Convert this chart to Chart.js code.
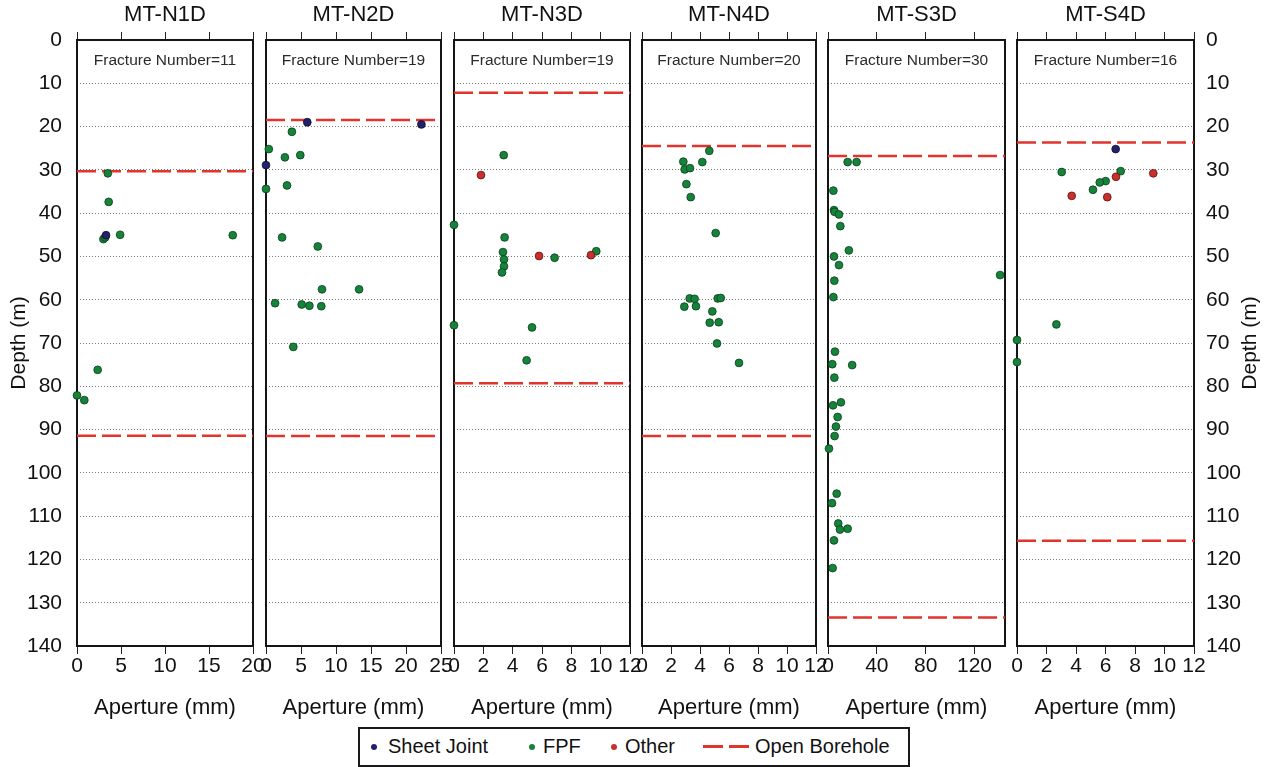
<!DOCTYPE html>
<html>
<head>
<meta charset="utf-8">
<title>Fracture aperture versus depth</title>
<script src="https://cdn.jsdelivr.net/npm/chart.js@4.4.1/dist/chart.umd.min.js"></script>
<style>
  html, body { margin: 0; padding: 0; background: #ffffff; }
  #stage { position: relative; width: 1271px; height: 767px; overflow: hidden; font-family: "Liberation Sans", Arial, sans-serif; }
  #stage canvas { position: absolute; left: 0; top: 0; }
  #legend { position: absolute; left: 358px; top: 727px; width: 552px; height: 40px; box-sizing: border-box;
            border: 2px solid #1a1a1a; background: #fff; font-size: 20px; color: #111; }
  #legend .dot { position: absolute; top: 15px; width: 6px; height: 6px; border-radius: 50%; }
  #legend .txt { position: absolute; top: 5px; line-height: 24px; white-space: nowrap; }
  #legend .dash { position: absolute; top: 16px; width: 20px; height: 3px; background: #e0342c; }
</style>
</head>
<body>
<div id="stage">
  <div id="legend">
    <span class="dot" style="left:11px;background:#22226a"></span><span class="txt" style="left:28px">Sheet Joint</span>
    <span class="dot" style="left:169px;background:#15843a"></span><span class="txt" style="left:183px">FPF</span>
    <span class="dot" style="left:251px;background:#c9302c"></span><span class="txt" style="left:265px">Other</span>
    <span class="dash" style="left:343px"></span><span class="dash" style="left:369px"></span><span class="txt" style="left:395px">Open Borehole</span>
  </div>
</div>
<script>
// ---- data: [aperture (mm), depth (m)] ----
const wellNames = ['MT-N1D', 'MT-N2D', 'MT-N3D', 'MT-N4D', 'MT-S3D', 'MT-S4D'];
const fractureCounts = [11, 19, 19, 20, 30, 16];
const apertureMax = [20, 25, 12, 12, 145, 12];

const ticksN1D = [0, 5, 10, 15, 20];
const ticksN2D = [0, 5, 10, 15, 20, 25];
const ticksN3D = [0, 2, 4, 6, 8, 10, 12];
const ticksN4D = [0, 2, 4, 6, 8, 10, 12];
const ticksS3D = [0, 40, 80, 120];
const ticksS4D = [0, 2, 4, 6, 8, 10, 12];
const depthTicks = [0, 10, 20, 30, 40, 50, 60, 70, 80, 90, 100, 110, 120, 130, 140];

// open borehole interval (top, bottom) in metres
const boreholeN1D = [30.3, 91.4];
const boreholeN2D = [18.5, 91.5];
const boreholeN3D = [12.2, 79.3];
const boreholeN4D = [24.5, 91.5];
const boreholeS3D = [26.8, 133.4];
const boreholeS4D = [23.7, 115.7];

const sheetN1D = [[3.3, 45.1]];
const fpfN1D = [[3.5, 30.8], [3.6, 37.4], [3.0, 46.0], [3.2, 45.6], [4.9, 45.0], [17.7, 45.1], [2.35, 76.2], [0, 82.1], [0.83, 83.2]];
const otherN1D = [];

const sheetN2D = [[5.9, 19.0], [22.2, 19.5], [0, 28.9]];
const fpfN2D = [[3.7, 21.2], [0.4, 25.2], [2.7, 27.1], [4.9, 26.6], [0, 34.4], [3.0, 33.6], [2.3, 45.6], [7.4, 47.7],
                [8.0, 57.6], [13.3, 57.6], [1.3, 60.8], [5.1, 61.1], [6.2, 61.4], [7.9, 61.5], [3.9, 70.9]];
const otherN2D = [];

const sheetN3D = [];
const fpfN3D = [[3.39, 26.6], [0, 42.7], [3.45, 45.6], [3.34, 49.0], [3.41, 50.7], [3.41, 52.3], [3.27, 53.7],
                [6.86, 50.3], [9.7, 48.8], [0, 65.9], [5.32, 66.4], [4.95, 74.0]];
const otherN3D = [[1.84, 31.2], [5.8, 49.9], [9.34, 49.7]];

const sheetN4D = [];
const fpfN4D = [[4.64, 25.6], [2.85, 28.1], [4.16, 28.2], [2.94, 29.9], [3.31, 29.6], [3.06, 33.3], [3.36, 36.3],
                [5.08, 44.6], [3.29, 59.7], [3.63, 59.8], [5.22, 59.7], [5.43, 59.6], [2.92, 61.6], [3.72, 61.5],
                [4.85, 62.7], [4.67, 65.3], [5.29, 65.2], [5.17, 70.1], [6.69, 74.6]];
const otherN4D = [];

const sheetS3D = [];
const fpfS3D = [[16.1, 28.2], [23.4, 28.2], [4.4, 34.8], [4.9, 39.3], [5.4, 39.7], [9.0, 40.3], [10.1, 43.0],
                [17.1, 48.6], [4.9, 50.0], [9.0, 52.0], [141, 54.3], [5.2, 55.6], [4.4, 59.4], [5.7, 72.0],
                [3.5, 74.9], [19.8, 75.1], [5.2, 78.0], [4.1, 84.4], [10.6, 83.7], [7.9, 87.1], [6.5, 89.3],
                [5.4, 91.5], [0.8, 94.4], [7.1, 104.8], [3.3, 107.0], [8.4, 111.7], [9.8, 113.1], [16.1, 112.9],
                [4.9, 115.6], [3.8, 122.0]];
const otherS3D = [];

const sheetS4D = [[6.69, 25.2]];
const fpfS4D = [[3.03, 30.5], [7.03, 30.3], [6.01, 32.6], [5.61, 32.9], [5.15, 34.6], [2.67, 65.7], [0, 69.3], [0, 74.4]];
const otherS4D = [[6.71, 31.6], [9.24, 30.8], [3.71, 36.0], [6.12, 36.3]];

const wellTicks = [ticksN1D, ticksN2D, ticksN3D, ticksN4D, ticksS3D, ticksS4D];
const wellBorehole = [boreholeN1D, boreholeN2D, boreholeN3D, boreholeN4D, boreholeS3D, boreholeS4D];
const wellSheet = [sheetN1D, sheetN2D, sheetN3D, sheetN4D, sheetS3D, sheetS4D];
const wellFpf = [fpfN1D, fpfN2D, fpfN3D, fpfN4D, fpfS3D, fpfS4D];
const wellOther = [otherN1D, otherN2D, otherN3D, otherN4D, otherS3D, otherS4D];

// ---- page layout: plot frame of each well column ----
const W = 1271, H = 767;
const frameLeft = [77, 266, 454, 642, 828, 1017];
const frameRight = [253, 441, 630, 816, 1005, 1194];
const frameTop = 40, frameBottom = 646;

const FONT = '"Liberation Sans", Arial, sans-serif';
const COLORS = {
  sheet: { fill: '#22226a', edge: '#0c0c30' },
  fpf: { fill: '#15843a', edge: '#0b3d1c' },
  other: { fill: '#c9302c', edge: '#5a1212' },
  borehole: '#e0342c'
};

const toPts = arr => arr.map(p => ({ x: p[0], y: p[1] }));

// frame, well name and fracture count for each column
const columnDecor = {
  id: 'columnDecor',
  beforeDatasetsDraw(chart, args, opts) {
    const a = chart.chartArea, ctx = chart.ctx;
    ctx.save();
    ctx.strokeStyle = '#151515';
    ctx.lineWidth = 2;
    ctx.strokeRect(a.left, a.top, a.right - a.left, a.bottom - a.top);
    ctx.fillStyle = '#2a2a2a';
    ctx.font = '15.5px ' + FONT;
    ctx.textAlign = 'center';
    ctx.textBaseline = 'middle';
    ctx.fillText('Fracture Number=' + opts.count, (a.left + a.right) / 2, 61);
    ctx.restore();
  },
  afterDraw(chart, args, opts) {
    const a = chart.chartArea, ctx = chart.ctx;
    ctx.save();
    ctx.fillStyle = '#111';
    ctx.font = '22px ' + FONT;
    ctx.textAlign = 'center';
    ctx.textBaseline = 'middle';
    ctx.fillText(opts.name, (a.left + a.right) / 2, 15);
    if (opts.rightTitle) {
      ctx.translate(1250, (a.top + a.bottom) / 2);
      ctx.rotate(-Math.PI / 2);
      ctx.font = '21px ' + FONT;
      ctx.fillText(opts.rightTitle, 0, 0);
    }
    ctx.restore();
  }
};

const stage = document.getElementById('stage');

wellNames.forEach((name, i) => {
  const canvas = document.createElement('canvas');
  canvas.width = W; canvas.height = H;
  canvas.style.width = W + 'px'; canvas.style.height = H + 'px';
  stage.insertBefore(canvas, document.getElementById('legend'));

  const first = i === 0, last = i === wellNames.length - 1;
  const xMax = apertureMax[i];
  const xTicks = wellTicks[i];

  const pointSet = (label, data, c, order) => ({
    type: 'scatter', label, data: toPts(data), order,
    backgroundColor: c.fill, borderColor: c.edge, borderWidth: 0.8,
    pointRadius: 3.9, pointHoverRadius: 3.9, clip: false
  });
  const datasets = [
    pointSet('Sheet Joint', wellSheet[i], COLORS.sheet, 0),
    pointSet('Other', wellOther[i], COLORS.other, 1),
    pointSet('FPF', wellFpf[i], COLORS.fpf, 2)
  ];
  wellBorehole[i].forEach(d => {
    datasets.push({
      type: 'line', label: 'Open Borehole', order: 3,
      data: [{ x: 0, y: d }, { x: xMax, y: d }],
      borderColor: COLORS.borehole, borderWidth: 2.5, borderDash: [19, 6],
      pointRadius: 0, fill: false, tension: 0
    });
  });

  const setTicks = list => scale => { scale.ticks = list.map(v => ({ value: v })); };

  const scales = {
    x: {
      type: 'linear', position: 'bottom', min: 0, max: xMax,
      afterBuildTicks: setTicks(xTicks),
      afterFit: s => { s.height = H - frameBottom; },
      grid: { drawOnChartArea: false, drawTicks: true, tickLength: 8, tickColor: '#222', tickWidth: 1 },
      border: { display: false },
      ticks: { autoSkip: false, maxRotation: 0, padding: 0, color: '#111', font: { family: FONT, size: 21 },
               callback: v => String(v) },
      title: { display: true, text: 'Aperture (mm)', color: '#111', font: { family: FONT, size: 22 },
               padding: { top: 0, bottom: 46 } }
    },
    xTop: {
      type: 'linear', position: 'top', min: 0, max: xMax,
      afterBuildTicks: setTicks(xTicks),
      afterFit: s => { s.height = frameTop; },
      grid: { drawOnChartArea: false, drawTicks: true, tickLength: 8, tickColor: '#222', tickWidth: 1 },
      border: { display: false },
      ticks: { display: false }
    },
    y: {
      type: 'linear', position: 'left', min: 0, max: 140, reverse: true,
      afterBuildTicks: setTicks(depthTicks),
      afterFit: s => { s.width = first ? frameLeft[0] : 0; },
      grid: { color: '#7a7a7a', lineWidth: 1, drawTicks: false },
      border: { display: false, dash: [1, 2] },
      ticks: { display: first, padding: 15, color: '#111', font: { family: FONT, size: 21 } },
      title: { display: first, text: 'Depth (m)', color: '#111', font: { family: FONT, size: 21 },
               padding: { top: 7, bottom: 0 } }
    }
  };
  if (last) {
    scales.yRight = {
      type: 'linear', position: 'right', min: 0, max: 140, reverse: true,
      afterBuildTicks: setTicks(depthTicks),
      afterFit: s => { s.width = W - frameRight[i]; },
      grid: { drawOnChartArea: false, drawTicks: false },
      border: { display: false },
      ticks: { display: true, padding: 12, color: '#111', font: { family: FONT, size: 21 } }
    };
  }

  new Chart(canvas, {
    data: { datasets },
    options: {
      responsive: false,
      devicePixelRatio: 1,
      animation: false,
      events: [],
      layout: {
        padding: {
          left: first ? 0 : frameLeft[i],
          right: last ? 0 : W - frameRight[i],
          top: 0, bottom: 0
        }
      },
      scales,
      plugins: {
        legend: { display: false },
        tooltip: { enabled: false },
        columnDecor: { name, count: fractureCounts[i], rightTitle: last ? 'Depth (m)' : null }
      }
    },
    plugins: [columnDecor]
  });
});
</script>
</body>
</html>
